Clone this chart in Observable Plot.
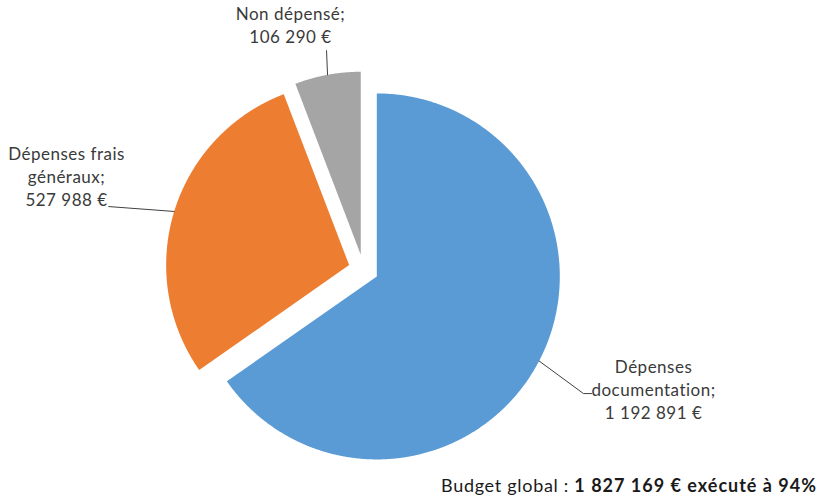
<!DOCTYPE html>
<html><head><meta charset="utf-8">
<script src="https://cdn.jsdelivr.net/npm/d3@7"></script>
<script src="https://cdn.jsdelivr.net/npm/@observablehq/plot@0.6"></script>
<style>
body{margin:0;background:#fff;font-family:Lato, "Open Sans", sans-serif;}
#footer{height:40px;width:826px;box-sizing:border-box;padding-right:9px;padding-top:10px;text-align:right;font-size:18px;line-height:30px;color:#1a1a1a;letter-spacing:0.7px;white-space:nowrap;}
#footer b{letter-spacing:1px;}
</style>
</head><body>
<div id="chart"></div>
<div id="footer"></div>
<script>
// ---- data ----
const categories = ["Dépenses documentation", "Dépenses frais généraux", "Non dépensé"];
const values = [1192891, 527988, 106290];
const labelNames = ["Dépenses\ndocumentation", "Dépenses frais\ngénéraux", "Non dépensé"];
const budgetTotal = 1827169;
const executionRate = 94;

// ---- style / layout ----
const colors = ["#5B9BD5", "#ED7D31", "#A5A5A5"];
const W = 826, H = 460, CX = 363, CY = 269, R = 183, EXPLODE = 15 / R;
// label placement in pie-radius units relative to the pie centre
const labelLayout = [
  {elbow: [1.202, -0.678], end: [1.246, -0.678], text: [1.585, -0.650]},
  {elbow: [-1.393, 0.344], end: [-1.393, 0.344], text: [-1.623, 0.515]},
  {elbow: [-0.202, 1.197], end: [-0.202, 1.197], text: [-0.399, 1.340]}
];

const fr = d3.formatLocale({decimal: ",", thousands: " ", grouping: [3], currency: ["", " €"]});
const fmt = fr.format(",d");

const data = categories.map((name, i) => ({name, value: values[i], label: labelNames[i]}));
const arcs = d3.pie().sort(null).value(d => d.value)(data);

const slicePts = [];
const leaderPts = [];
const labelData = [];
arcs.forEach((a, i) => {
  const mid = (a.startAngle + a.endAngle) / 2;
  const ox = EXPLODE * Math.sin(mid), oy = EXPLODE * Math.cos(mid);
  const name = a.data.name;
  slicePts.push({name, x: ox, y: oy});
  const n = Math.max(4, Math.ceil((a.endAngle - a.startAngle) / 0.005));
  for (let k = 0; k <= n; k++) {
    const t = a.startAngle + (a.endAngle - a.startAngle) * k / n;
    slicePts.push({name, x: ox + Math.sin(t), y: oy + Math.cos(t)});
  }
  const L = labelLayout[i];
  leaderPts.push({name, x: ox + Math.sin(mid), y: oy + Math.cos(mid)});
  leaderPts.push({name, x: L.elbow[0], y: L.elbow[1]});
  leaderPts.push({name, x: L.end[0], y: L.end[1]});
  labelData.push({x: L.text[0], y: L.text[1], text: `${a.data.label};\n${fmt(a.data.value)} €`});
});

const chart = Plot.plot({
  width: W, height: H,
  margin: 0,
  style: {fontFamily: "Lato, 'Open Sans', sans-serif", background: "#fff", letterSpacing: "0.5px"},
  x: {domain: [-1, 1], range: [CX - R, CX + R], axis: null},
  y: {domain: [-1, 1], range: [CY + R, CY - R], axis: null},
  color: {domain: categories, range: colors},
  marks: [
    Plot.line(slicePts, {x: "x", y: "y", z: "name", fill: "name", stroke: "none", curve: "linear-closed"}),
    Plot.line(leaderPts, {x: "x", y: "y", z: "name", stroke: "#404040", strokeWidth: 1}),
    Plot.text(labelData, {x: "x", y: "y", text: "text", fontSize: 17, lineHeight: 1.35, fill: "#3a3a3a", textAnchor: "middle"})
  ]
});
document.getElementById("chart").appendChild(chart);

document.getElementById("footer").innerHTML =
  `Budget global : <b>${fmt(budgetTotal)} € exécuté à ${executionRate}%</b>`;
</script>
</body></html>
